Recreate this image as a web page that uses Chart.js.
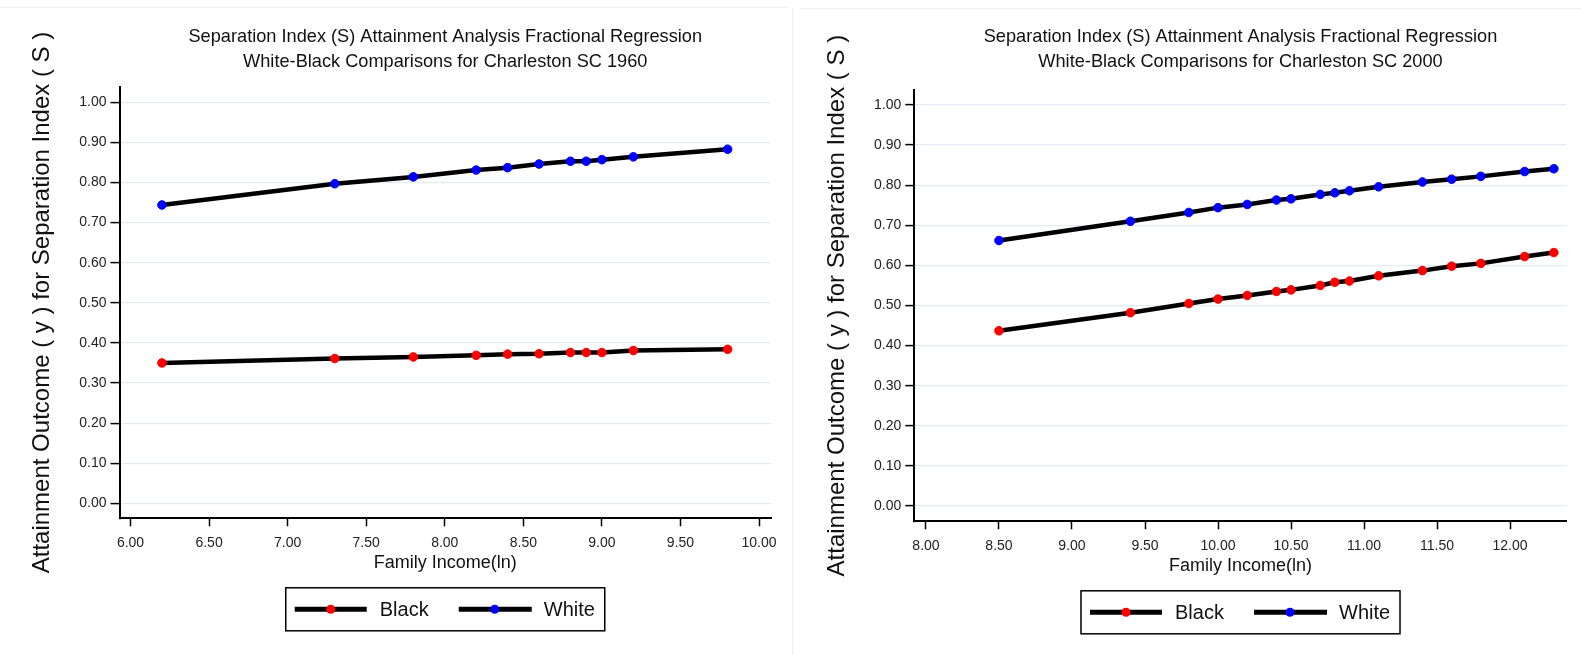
<!DOCTYPE html>
<html>
<head>
<meta charset="utf-8">
<script src="https://cdn.jsdelivr.net/npm/chart.js@4.4.1/dist/chart.umd.min.js"></script>
<style>
  html,body{margin:0;padding:0;background:#fff;}
  body{width:1581px;height:655px;position:relative;overflow:hidden;}
  #p1{position:absolute;left:0;top:0;width:790px;height:655px;}
  #p2{position:absolute;left:790px;top:0;width:791px;height:655px;}
  .topline{position:absolute;left:0;top:7px;width:788px;height:1px;background:#eceff1;}
  .topline2{position:absolute;left:800px;top:8px;width:781px;height:1px;background:#eceff1;}
  .vline{position:absolute;left:792px;top:8px;width:1px;height:647px;background:#eceff1;}
</style>
</head>
<body>
<div class="topline"></div>
<div class="topline2"></div>
<div class="vline"></div>
<div id="p1"><canvas id="c1" width="790" height="655"></canvas></div>
<div id="p2"><canvas id="c2" width="791" height="655"></canvas></div>
<script>
// ---- data ----
const seriesNames = ['Black', 'White'];
const income1960 = [6.2, 7.3, 7.8, 8.2, 8.4, 8.6, 8.8, 8.9, 9.0, 9.2, 9.8];
const black1960  = [0.350, 0.361, 0.365, 0.369, 0.372, 0.373, 0.376, 0.376, 0.376, 0.381, 0.384];
const white1960  = [0.744, 0.797, 0.814, 0.831, 0.837, 0.846, 0.853, 0.853, 0.857, 0.864, 0.883];

const income2000 = [8.5, 9.4, 9.8, 10.0, 10.2, 10.4, 10.5, 10.7, 10.8, 10.9, 11.1, 11.4, 11.6, 11.8, 12.1, 12.3];
const black2000  = [0.437, 0.482, 0.505, 0.516, 0.525, 0.535, 0.539, 0.550, 0.558, 0.561, 0.574, 0.587, 0.598, 0.605, 0.622, 0.632];
const white2000  = [0.662, 0.710, 0.732, 0.744, 0.752, 0.763, 0.766, 0.777, 0.781, 0.786, 0.796, 0.808, 0.815, 0.822, 0.834, 0.841];

const yTicks = [0.0, 0.1, 0.2, 0.3, 0.4, 0.5, 0.6, 0.7, 0.8, 0.9, 1.0];
const xTicks1960 = [6.0, 6.5, 7.0, 7.5, 8.0, 8.5, 9.0, 9.5, 10.0];
const xTicks2000 = [8.0, 8.5, 9.0, 9.5, 10.0, 10.5, 11.0, 11.5, 12.0];

const title1960 = ['Separation Index (S) Attainment Analysis Fractional Regression', 'White-Black Comparisons for Charleston SC 1960'];
const title2000 = ['Separation Index (S) Attainment Analysis Fractional Regression', 'White-Black Comparisons for Charleston SC 2000'];
const xTitle = 'Family Income(ln)';
const yTitle = 'Attainment Outcome ( y ) for Separation Index ( S )';

const FONT = "'Liberation Sans', Arial, sans-serif";
const markerColors = ['#ff0000', '#0000ff'];

function pts(xs, ys){ return xs.map((x,i)=>({x:x, y:ys[i]})); }

// Title centred over the plot area, and the boxed legend below the axis
const decorPlugin = {
  id: 'decor',
  afterDraw(chart, args, opts){
    const ctx = chart.ctx, ca = chart.chartArea;
    const cx = (ca.left + ca.right)/2;
    ctx.save();
    // title
    ctx.fillStyle = '#111';
    ctx.font = '18.2px ' + FONT;
    ctx.textAlign = 'center';
    ctx.textBaseline = 'middle';
    opts.title.forEach((line, i) => ctx.fillText(line, cx, opts.titleY + i * 24.5));
    // legend
    const w = 319, h = 43;
    const left = cx - w/2;
    const top = ca.bottom + 69.5;
    const cy = top + h/2;
    ctx.strokeStyle = '#000';
    ctx.lineWidth = 1.5;
    ctx.strokeRect(left, top, w, h);
    const items = [
      {l0: 9, l1: 81, dot: 45, tx: 94},
      {l0: 173, l1: 246, dot: 209, tx: 258}
    ];
    chart.data.datasets.forEach((ds, i) => {
      const it = items[i];
      ctx.strokeStyle = '#000';
      ctx.lineWidth = 5;
      ctx.beginPath();
      ctx.moveTo(left + it.l0, cy);
      ctx.lineTo(left + it.l1, cy);
      ctx.stroke();
      ctx.fillStyle = ds.pointBackgroundColor;
      ctx.beginPath();
      ctx.arc(left + it.dot, cy, 4.5, 0, Math.PI*2);
      ctx.fill();
      ctx.fillStyle = '#111';
      ctx.font = '20px ' + FONT;
      ctx.textBaseline = 'middle';
      ctx.textAlign = 'left';
      ctx.fillText(ds.label, left + it.tx, cy + 1);
    });
    ctx.restore();
  }
};

function makeChart(id, xs, blacks, whites, xTicks, titleLines, L){
  const datasets = [blacks, whites].map((ys, i) => ({
    label: seriesNames[i],
    data: pts(xs, ys),
    showLine: true,
    borderColor: '#000',
    borderWidth: 4.5,
    pointBackgroundColor: markerColors[i],
    pointBorderColor: markerColors[i],
    pointBorderWidth: 1,
    pointRadius: 4.3,
    pointStyle: 'circle',
    tension: 0
  }));
  return new Chart(document.getElementById(id), {
    type: 'scatter',
    data: { datasets },
    plugins: [decorPlugin],
    options: {
      responsive: false,
      animation: false,
      devicePixelRatio: 1,
      layout: { padding: { left: 0, right: L.padRight, top: L.padTop, bottom: 0 } },
      plugins: {
        legend: { display: false },
        tooltip: { enabled: false },
        title: { display: false },
        decor: { title: titleLines, titleY: 37 }
      },
      scales: {
        x: {
          type: 'linear',
          min: L.xMin, max: L.xMax,
          afterBuildTicks: s => { s.ticks = xTicks.map(v => ({ value: v })); },
          afterFit: s => { s.height = L.xHeight; },
          ticks: {
            callback: v => Number(v).toFixed(2),
            color: '#222',
            font: { family: FONT, size: 14 },
            padding: 8,
            maxRotation: 0,
            autoSkip: false
          },
          grid: { drawOnChartArea: false, tickColor: '#000', tickLength: 8, tickWidth: 1.5 },
          border: { display: true, color: '#000', width: 2 },
          title: {
            display: true, text: xTitle, color: '#111',
            font: { family: FONT, size: 18, lineHeight: 1.2 },
            padding: { top: 0, bottom: L.xTitlePad }
          }
        },
        y: {
          type: 'linear',
          min: L.yMin, max: L.yMax,
          afterBuildTicks: s => { s.ticks = yTicks.map(v => ({ value: v })); },
          afterFit: s => { s.width = L.yWidth; },
          ticks: {
            callback: v => Number(v).toFixed(2),
            color: '#222',
            font: { family: FONT, size: 14 },
            padding: 4
          },
          grid: { color: '#e4ebf0', lineWidth: 1.2, tickColor: '#000', tickLength: 9, tickWidth: 1.5 },
          border: { display: true, color: '#000', width: 2 },
          title: {
            display: true, text: yTitle, color: '#111',
            font: { family: FONT, size: 24, lineHeight: 1.2 },
            padding: { top: L.yTitlePad, bottom: 0 }
          }
        }
      }
    }
  });
}

makeChart('c1', income1960, black1960, white1960, xTicks1960, title1960, {
  padRight: 19, padTop: 86.7,
  xMin: 5.93, xMax: 10.076, yMin: -0.0374, yMax: 1.0389,
  xHeight: 136.7, yWidth: 119.5, xTitlePad: 81.2, yTitlePad: 28
});
makeChart('c2', income2000, black2000, white2000, xTicks2000, title2000, {
  padRight: 14.3, padTop: 90,
  xMin: 7.92, xMax: 12.388, yMin: -0.0382, yMax: 1.0374,
  xHeight: 133.7, yWidth: 124.3, xTitlePad: 78.2, yTitlePad: 33
});
</script>
</body>
</html>
